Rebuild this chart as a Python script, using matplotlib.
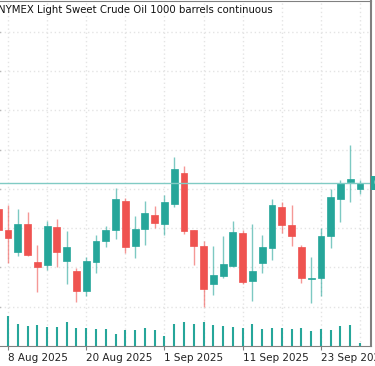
import numpy as np
import matplotlib
matplotlib.use("Agg")
import matplotlib.pyplot as plt

# daily candles, 7 Aug 2025 .. 29 Sep 2025 (first one only partly visible)
dates = ["7 Aug", "8 Aug", "11 Aug", "12 Aug", "13 Aug", "14 Aug", "15 Aug", "18 Aug",
         "19 Aug", "20 Aug", "21 Aug", "22 Aug", "25 Aug", "26 Aug", "27 Aug", "28 Aug",
         "29 Aug", "1 Sep", "2 Sep", "3 Sep", "4 Sep", "5 Sep", "8 Sep", "9 Sep",
         "10 Sep", "11 Sep", "12 Sep", "15 Sep", "16 Sep", "17 Sep", "18 Sep", "19 Sep",
         "22 Sep", "23 Sep", "24 Sep", "25 Sep", "26 Sep", "29 Sep"]
opens = [63.49, 62.96, 62.40, 63.11, 62.14, 62.07, 63.03, 62.17, 61.91, 61.40,
         62.14, 62.68, 62.96, 63.69, 62.55, 62.98, 63.34, 63.11, 63.62, 64.41,
         62.96, 62.55, 61.58, 61.79, 62.04, 62.88, 61.66, 62.12, 62.50, 63.54,
         63.08, 62.52, 61.71, 61.74, 62.80, 63.75, 64.18, 64.00]
highs = [63.62, 63.59, 63.49, 63.41, 62.58, 63.19, 63.24, 62.93, 61.99, 62.27,
         62.83, 63.06, 64.03, 63.77, 63.31, 63.69, 63.57, 63.85, 64.81, 64.59,
         62.96, 62.68, 62.55, 62.80, 63.19, 62.96, 63.11, 62.83, 63.75, 63.67,
         63.59, 62.58, 62.27, 63.01, 64.00, 64.23, 65.12, 64.23]
lows = [62.80, 62.12, 62.30, 62.30, 61.38, 61.94, 62.02, 61.58, 61.12, 61.28,
        61.86, 62.52, 62.73, 62.37, 62.24, 62.58, 63.01, 62.83, 63.54, 62.85,
        62.07, 61.00, 61.30, 61.74, 62.00, 61.58, 61.15, 61.86, 62.19, 62.88,
        62.55, 61.61, 61.10, 61.28, 62.50, 63.16, 63.67, 63.87]
closes = [62.96, 62.75, 63.11, 62.32, 62.02, 63.06, 62.40, 62.52, 61.40, 62.17,
          62.68, 62.96, 63.75, 62.52, 62.98, 63.39, 63.13, 63.67, 64.51, 62.93,
          62.55, 61.46, 61.81, 62.09, 62.91, 61.63, 61.91, 62.52, 63.59, 63.08,
          62.80, 61.74, 61.74, 62.80, 63.80, 64.15, 64.25, 64.15]
volumes = [24, 30, 22, 20, 21, 19, 19, 24, 18, 18, 17, 17, 12, 16, 16, 18, 16, 10,
           22, 24, 22, 24, 21, 20, 19, 18, 22, 17, 18, 18, 17, 18, 15, 17, 16, 20, 21, 3]
label_dates = ["8 Aug 2025", "20 Aug 2025", "1 Sep 2025", "11 Sep 2025", "23 Sep 2025"]

up_col = "#26a69a"
dn_col = "#ef5350"

o = np.array(opens)
c = np.array(closes)
h = np.array(highs)
l = np.array(lows)
x = np.arange(len(dates)) - 1
up = c >= o
cols = np.where(up, up_col, dn_col)

fig = plt.figure(figsize=(3.75, 3.66), dpi=100)
ax = fig.add_axes([0, 20 / 366, 371 / 375, 345 / 366])

ax.vlines(x, l, h, color=cols, lw=1, alpha=0.6)
body = np.maximum(np.abs(c - o), 0.03)
ax.bar(x, body, bottom=np.minimum(o, c), width=0.7, color=cols,
       edgecolor=cols, linewidth=0.5)

ax.axhline(closes[-1], color="#80cbc4", lw=1)

ax.set_xlim(-0.818, 37.12)
ax.set_ylim(60.0, 68.78)

ax.set_yticks(np.arange(61, 69))
ax.yaxis.tick_right()
ax.tick_params(axis="y", direction="out", length=3, width=1, color="#808080",
               labelright=False)
ax.set_xticks(np.arange(0, 33, 8))
ax.set_xticklabels(label_dates, ha="left", fontsize=7.5, color="#222222")
ax.set_xticks(np.arange(0, 37, 4), minor=True)
ax.tick_params(axis="x", which="major", direction="out", length=3, color="#808080", pad=2)
ax.tick_params(axis="x", which="minor", length=0)

ax.grid(True, which="both", axis="x", color="#e4e4e4", linestyle=(0, (1, 2)), lw=1)
ax.grid(True, which="major", axis="y", color="#e4e4e4", linestyle=(0, (1, 2)), lw=1)
ax.set_axisbelow(True)

ax.spines["left"].set_visible(False)
for s in ["right", "top", "bottom"]:
    ax.spines[s].set_color("#808080")
ax.spines["right"].set_linewidth(1.5)

# volume at the bottom, own scale, drawn over the grid
vax = ax.twinx()
vax.vlines(x, 0, volumes, color=up_col, lw=1.5)
vax.set_ylim(0, 345)
vax.axis("off")

ax.text(-2 / 371, 0.975, "NYMEX Light Sweet Crude Oil 1000 barrels continuous",
        transform=ax.transAxes, ha="left", va="center", fontsize=7.3, color="#111111")

# last price tag on the (cropped) price scale
ax.text(1 + 2 / 371, closes[-1], "%.2f" % closes[-1], transform=ax.get_yaxis_transform(),
        ha="left", va="center", fontsize=7, color="white", clip_on=False,
        bbox=dict(boxstyle="square,pad=0.2", fc=up_col, ec="none"))

fig.savefig("out.png", dpi=100)
